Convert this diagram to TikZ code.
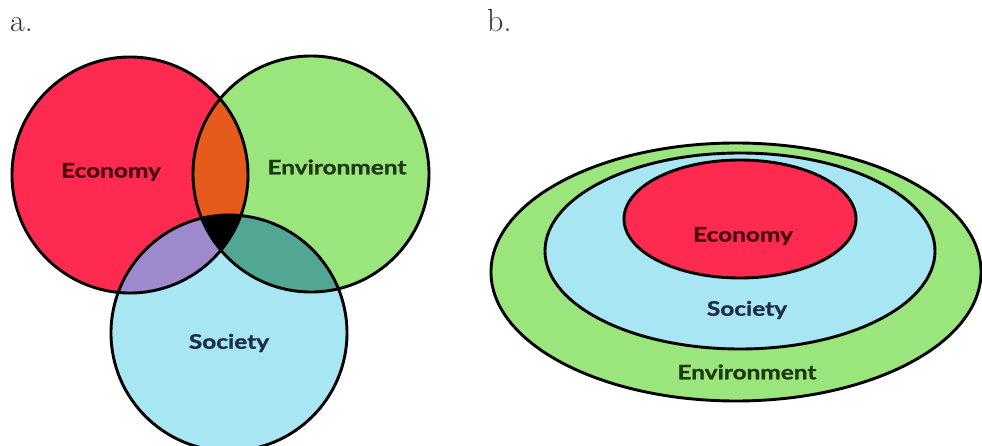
\documentclass[tikz,border=0pt]{standalone}
\usepackage{fontspec}
\newfontfamily\labfont[FakeStretch=1.22,FakeBold=1.2]{Lato}
\definecolor{ecored}{HTML}{FF2A50}
\definecolor{envgreen}{HTML}{9BE67C}
\definecolor{socblue}{HTML}{A8E6F4}
\definecolor{orangex}{HTML}{E65A1C}
\definecolor{purplex}{HTML}{9C8ACC}
\definecolor{tealx}{HTML}{52A794}
\definecolor{ecotext}{HTML}{4A0A12}
\definecolor{envtext}{HTML}{1E3812}
\definecolor{soctext}{HTML}{1C2C4A}
\tikzset{
  outline/.style={draw=black, line width=2.9pt},
  lab/.style={font=\labfont\bfseries\fontsize{20}{22}\selectfont, inner sep=0pt},
  letter/.style={font=\fontsize{32}{36}\selectfont, inner sep=0pt, anchor=base west, text=black!80}
}
\begin{document}
\begin{tikzpicture}[x=1pt,y=-1pt]
\useasboundingbox[fill=white] (0,0) rectangle (982,446);
% panel labels
\node[letter] (la) at (10,32) {a.};
\node[letter] (lb) at (487,32) {b.};
% ---- Venn diagram ----
\coordinate (ceco) at (130,175);
\coordinate (cenv) at (311,174);
\coordinate (csoc) at (229,333);
\fill[ecored] (ceco) circle[radius=118];
\fill[envgreen] (cenv) circle[radius=118];
\fill[socblue] (csoc) circle[radius=118];
\begin{scope}
  \clip (ceco) circle[radius=118];
  \fill[orangex] (cenv) circle[radius=118];
  \fill[purplex] (csoc) circle[radius=118];
  \clip (cenv) circle[radius=118];
  \fill[black] (csoc) circle[radius=118];
\end{scope}
\begin{scope}
  \clip (cenv) circle[radius=118];
  \clip (csoc) circle[radius=118];
  \fill[tealx] (cenv) circle[radius=118];
  \clip (ceco) circle[radius=118];
  \fill[black] (ceco) circle[radius=118];
\end{scope}
\draw[outline] (ceco) circle[radius=118];
\draw[outline] (cenv) circle[radius=118];
\draw[outline] (csoc) circle[radius=118];
\node[lab, text=ecotext] (teco) at (111,172) {Economy};
\node[lab, text=envtext] (tenv) at (337,167) {Environment};
\node[lab, text=soctext] (tsoc) at (229,343) {Society};
% ---- Nested ellipses ----
\draw[outline, fill=envgreen] (736,272) ellipse[x radius=245, y radius=129];
\draw[outline, fill=socblue] (740,251) ellipse[x radius=195, y radius=98];
\draw[outline, fill=ecored] (740,219) ellipse[x radius=116, y radius=59];
\node[lab, text=ecotext] (beco) at (743,236) {Economy};
\node[lab, text=soctext] (bsoc) at (747,310) {Society};
\node[lab, text=envtext] (benv) at (747,372) {Environment};
\end{tikzpicture}
\end{document}
